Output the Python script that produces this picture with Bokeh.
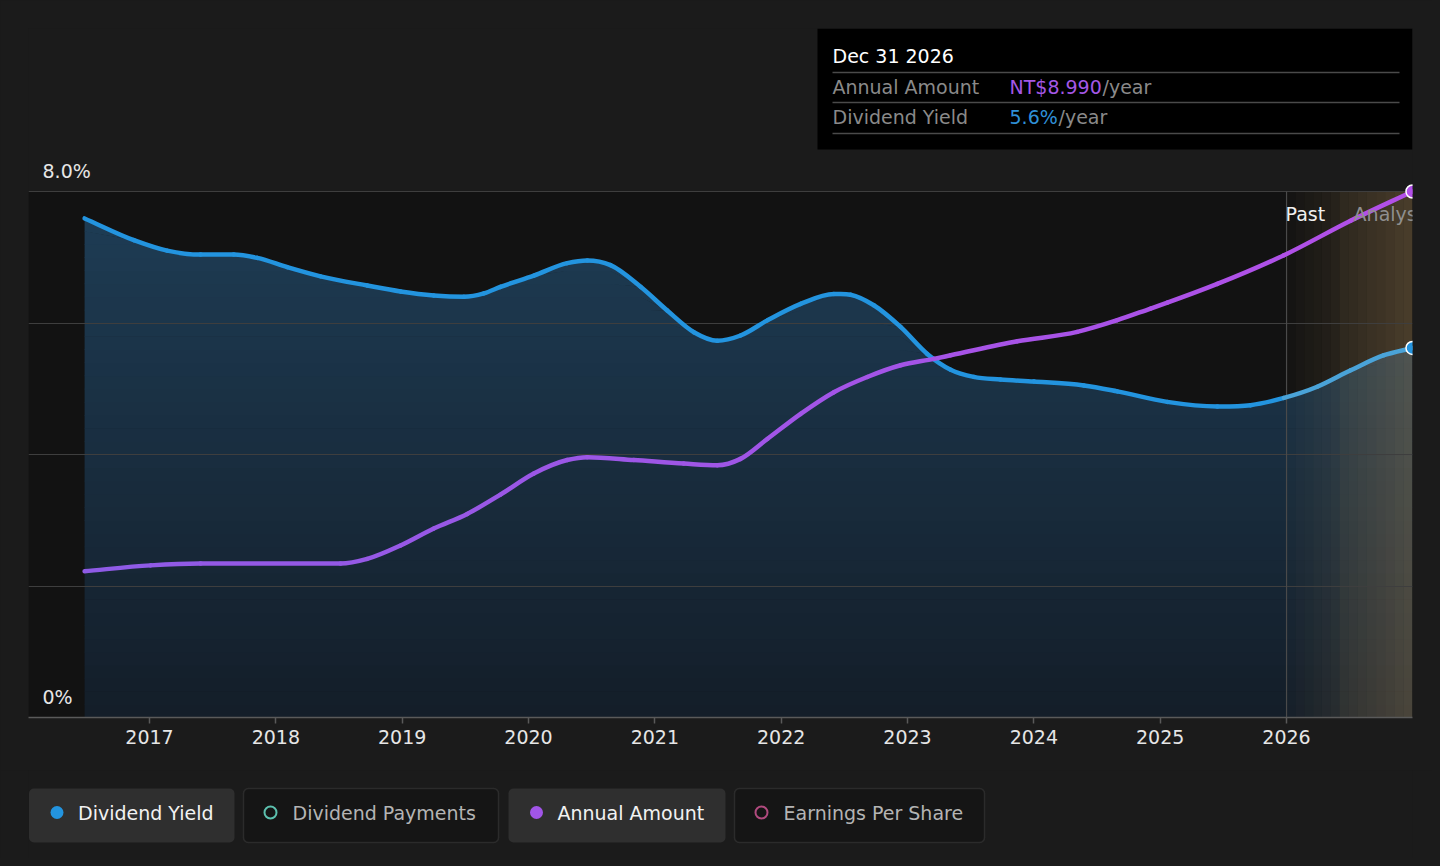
import numpy as np
from bokeh.plotting import figure
from bokeh.layouts import column
from bokeh.models import Range1d, FixedTicker, BoxAnnotation, GlobalInlineStyleSheet
from bokeh.core.properties import value
from bokeh.embed import file_html
from bokeh.resources import INLINE

# ---------------- data ----------------
yield_years = [2016.486, 2016.876, 2017.140, 2017.404, 2017.667, 2017.853, 2018.090, 2018.354,
               2018.723, 2018.987, 2019.250, 2019.488, 2019.646, 2019.778, 2020.042, 2020.306,
               2020.465, 2020.649, 2020.887, 2021.098, 2021.309, 2021.494, 2021.678, 2021.890,
               2022.154, 2022.417, 2022.549, 2022.733, 2022.945, 2023.156, 2023.341, 2023.525,
               2023.736, 2024.000, 2024.396, 2024.660, 2025.056, 2025.452, 2025.715, 2025.979,
               2026.243, 2026.507, 2026.771, 2026.997]
yield_values = [7.59, 7.26, 7.10, 7.04, 7.04, 6.99, 6.85, 6.71,
                6.57, 6.48, 6.42, 6.40, 6.45, 6.55, 6.72, 6.91,
                6.95, 6.88, 6.55, 6.19, 5.86, 5.73, 5.81, 6.04,
                6.29, 6.44, 6.43, 6.27, 5.94, 5.53, 5.29, 5.18,
                5.14, 5.11, 5.05, 4.96, 4.80, 4.73, 4.75, 4.86,
                5.03, 5.28, 5.51, 5.62]

amount_years = [2016.486, 2017.008, 2017.404, 2018.512, 2018.723, 2018.987, 2019.250, 2019.515,
                2019.778, 2020.042, 2020.306, 2020.465, 2020.834, 2021.229, 2021.494, 2021.678,
                2021.890, 2022.154, 2022.417, 2022.681, 2022.945, 2023.208, 2023.341, 2023.869,
                2024.343, 2024.660, 2024.924, 2025.056, 2025.452, 2025.979, 2026.507, 2026.997]
amount_values = [2.50, 2.60, 2.63, 2.63, 2.71, 2.94, 3.23, 3.48,
                 3.81, 4.17, 4.40, 4.45, 4.40, 4.34, 4.31, 4.42,
                 4.76, 5.19, 5.56, 5.82, 6.02, 6.13, 6.19, 6.43,
                 6.59, 6.79, 6.99, 7.09, 7.41, 7.90, 8.49, 8.99]

year_ticks = [2017, 2018, 2019, 2020, 2021, 2022, 2023, 2024, 2025, 2026]
yield_grid_ticks = [2, 4, 6, 8]
yield_labels_at = [0, 8]
yield_labels = ["0%", "8.0%"]
yield_axis_max = 8.0
amount_axis_max = 8.99
past_start = 2026.0
forecast_start = 2026.42
tooltip_date = "Dec 31 2026"
legend_labels = ["Dividend Yield", "Dividend Payments", "Annual Amount", "Earnings Per Share"]
legend_active = [True, False, True, False]
legend_colors = ["#2394df", "#5cc0ae", "#a155e8", "#b04a7e"]

# ---------------- styling / layout ----------------
FONT = value("DejaVu Sans")
BG = "#1b1b1b"
PLOT_BG = "#121212"
BLUE = "#2394df"
BLUE_FC = "#4aa3d8"

X_START, X_END = 2016.042, 2026.997
FL, FT = 28, 28          # frame left / top in page pixels
FW, FH = 1384, 689
Y_END = yield_axis_max * FH / 526.0
AMT_END = amount_axis_max * FH / 526.0


def dx(sx):
    return X_START + (sx - FL) / FW * (X_END - X_START)


def dy(sy):
    return (FT + FH - sy) / FH * Y_END


def bezier_parts(xs, ys):
    """Monotone cubic (Fritsch-Carlson style) segments expressed as Bezier controls."""
    x = np.asarray(xs, float)
    y = np.asarray(ys, float)
    h = np.diff(x)
    d = np.diff(y) / h
    m = np.zeros(len(x))
    m[0], m[-1] = d[0], d[-1]
    for i in range(1, len(x) - 1):
        if d[i - 1] * d[i] <= 0:
            m[i] = 0.0
        else:
            m[i] = (d[i - 1] * h[i] + d[i] * h[i - 1]) / (h[i - 1] + h[i])
    return dict(x0=x[:-1], y0=y[:-1], x1=x[1:], y1=y[1:],
                cx0=x[:-1] + h / 3, cy0=y[:-1] + m[:-1] * h / 3,
                cx1=x[1:] - h / 3, cy1=y[1:] - m[1:] * h / 3)


p = figure(frame_width=FW, frame_height=FH,
           x_range=Range1d(X_START, X_END), y_range=Range1d(0, Y_END),
           output_backend="svg", toolbar_location=None, y_axis_location=None,
           min_border_left=FL, min_border_right=20, min_border_top=FT, min_border_bottom=53,
           background_fill_color=BG, border_fill_color=BG, outline_line_color=None)
p.extra_y_ranges = {"amount": Range1d(0, AMT_END)}
p.xgrid.visible = False
p.ygrid.visible = False

ax = p.xaxis[0]
ax.ticker = FixedTicker(ticks=year_ticks)
ax.major_label_overrides = {t: str(t) for t in year_ticks}
ax.major_label_text_font = "DejaVu Sans"
ax.major_label_text_font_size = "19px"
ax.major_label_text_color = "#e6e6e6"
ax.axis_line_color = "#5a5a5a"
ax.axis_line_width = 1.5
ax.major_tick_line_color = "#5a5a5a"
ax.major_tick_line_width = 1.5
ax.major_tick_in = 0
ax.major_tick_out = 6
ax.minor_tick_line_color = None
ax.major_label_standoff = 6

# darker plot area
p.quad(left=[X_START], right=[X_END], bottom=[0], top=[yield_axis_max],
       fill_color=PLOT_BG, line_color=None)

# gradient fill under dividend yield
yx = np.array(yield_years)
yv = np.array(yield_values)
N = 40
top_c = np.array([30, 60, 84])
bot_c = np.array([20, 30, 41])
for k in range(N):
    lo = k * yield_axis_max / N
    hi = (k + 1) * yield_axis_max / N
    if lo > yv.max():
        break
    t = (lo + hi) / 2 / yv.max()
    c = bot_c + (top_c - bot_c) * min(t, 1)
    col = "#%02x%02x%02x" % tuple(int(v) for v in c)
    p.varea(x=yx, y1=np.minimum(yv, max(lo - 0.01, 0)), y2=np.minimum(yv, hi),
            fill_color=col, fill_alpha=1)

# past / forecast shading strips
ps = np.linspace(past_start, forecast_start, 7)
for i in range(6):
    p.quad(left=[ps[i]], right=[ps[i + 1]], bottom=[0], top=[yield_axis_max],
           fill_color="#c8a064", fill_alpha=0.02 + 0.018 * i, line_color=None)
fs = np.linspace(forecast_start, X_END, 9)
for i in range(8):
    p.quad(left=[fs[i]], right=[fs[i + 1]], bottom=[0], top=[yield_axis_max],
           fill_color="#c8a064", fill_alpha=0.16 + 0.02 * i, line_color=None)

# grid lines
p.hspan(y=yield_grid_ticks, line_color="#3e3e3e", line_width=1.2)
p.segment(x0=[past_start], y0=[0], x1=[past_start], y1=[yield_axis_max],
          line_color="#4a4a4a", line_width=1.2)

# dividend yield line (smooth curve through the points)
bz = bezier_parts(yield_years, yield_values)
bz["color"] = [BLUE if x1 <= past_start + 0.01 else BLUE_FC for x1 in yield_years[1:]]
p.bezier(x0="x0", y0="y0", x1="x1", y1="y1", cx0="cx0", cy0="cy0", cx1="cx1", cy1="cy1",
         source=bz, line_color="color", line_width=4.5, line_cap="round")

# annual amount line (colour shifts along the line)
ax_arr = np.array(amount_years)
t = (ax_arr[1:] - ax_arr[0]) / (ax_arr[-1] - ax_arr[0])
c0 = np.array([142, 92, 230])
c1 = np.array([178, 80, 232])
acols = ["#%02x%02x%02x" % tuple(int(v) for v in (c0 + (c1 - c0) * tt)) for tt in t]
ba = bezier_parts(amount_years, amount_values)
ba["color"] = acols
p.bezier(x0="x0", y0="y0", x1="x1", y1="y1", cx0="cx0", cy0="cy0", cx1="cx1", cy1="cy1",
         source=ba, line_color="color", line_width=4.5, line_cap="round", y_range_name="amount")

# end markers
p.scatter([yield_years[-1]], [yield_values[-1]], size=13, marker="circle",
          fill_color=BLUE, line_color="white", line_width=1.5)
p.scatter([amount_years[-1]], [amount_values[-1]], size=13, marker="circle",
          fill_color=acols[-1], line_color="white", line_width=1.5, y_range_name="amount")

# y labels
p.text(x=[X_START] * 2, y=yield_labels_at, text=yield_labels, x_offset=14, y_offset=-21,
       text_font=FONT, text_font_size="19px", text_color="#e6e6e6", text_baseline="middle")

# Past / Analysts labels
p.text(x=[past_start], y=[yield_axis_max], text=["Past"], x_offset=-1, y_offset=22,
       text_font=FONT, text_font_size="19px", text_color="#f0f0f0", text_baseline="middle")
p.text(x=[forecast_start], y=[yield_axis_max], text=["Analysts Forecasts"], x_offset=14, y_offset=22,
       text_font=FONT, text_font_size="19px", text_color="#8f8f8f", text_baseline="middle")

# tooltip box
p.quad(left=[dx(817)], right=[X_END], top=[dy(28)], bottom=[dy(149)],
       fill_color="#000000", line_color=None)
p.segment(x0=[dx(832)] * 3, x1=[dx(1399)] * 3, y0=[dy(72), dy(102), dy(133)],
          y1=[dy(72), dy(102), dy(133)], line_color="#4a4a4a", line_width=1.5)
p.text(x=[dx(832)], y=[dy(55)], text=[tooltip_date], text_font=FONT, text_font_size="19px",
       text_color="#ffffff", text_baseline="middle")
p.text(x=[dx(832), dx(832)], y=[dy(86), dy(116)], text=["Annual Amount", "Dividend Yield"],
       text_font=FONT, text_font_size="19px", text_color="#8a8a8a", text_baseline="middle")
p.text(x=[dx(1009)], y=[dy(86)], text=["NT$%.3f" % amount_values[-1]], text_font=FONT,
       text_font_size="19px", text_color="#a457e6", text_baseline="middle")
p.text(x=[dx(1102)], y=[dy(86)], text=["/year"], text_font=FONT,
       text_font_size="19px", text_color="#8a8a8a", text_baseline="middle")
p.text(x=[dx(1009)], y=[dy(116)], text=["%.1f%%" % yield_values[-1]], text_font=FONT,
       text_font_size="19px", text_color="#2f90d8", text_baseline="middle")
p.text(x=[dx(1058)], y=[dy(116)], text=["/year"], text_font=FONT,
       text_font_size="19px", text_color="#8a8a8a", text_baseline="middle")

# ---------------- legend ----------------
LG_TOP = 770
LG_H = 88
lg = figure(frame_width=FW, frame_height=LG_H,
            x_range=Range1d(FL, FL + FW), y_range=Range1d(LG_TOP + LG_H, LG_TOP),
            output_backend="svg", toolbar_location=None, x_axis_location=None, y_axis_location=None,
            min_border_left=FL, min_border_right=20, min_border_top=0, min_border_bottom=0,
            background_fill_color=BG, border_fill_color=BG, outline_line_color=None)
lg.xgrid.visible = False
lg.ygrid.visible = False
chip_left = [28.5, 243, 508, 734]
chip_right = [234, 498, 725, 984]
chip_top, chip_bottom, chip_mid = 788, 842, 812
for i, lab in enumerate(legend_labels):
    if legend_active[i]:
        box = BoxAnnotation(left=chip_left[i], right=chip_right[i], top=chip_top, bottom=chip_bottom,
                            fill_color="#2f2f2f", fill_alpha=1, line_color=None,
                            border_radius=5, level="underlay")
    else:
        box = BoxAnnotation(left=chip_left[i], right=chip_right[i], top=chip_top, bottom=chip_bottom,
                            fill_color="#151515", fill_alpha=1, line_color="#5a5a5a",
                            line_width=1.5, border_radius=5, level="underlay")
    lg.add_layout(box)
    if legend_active[i]:
        lg.scatter([chip_left[i] + 28], [chip_mid], size=13, marker="circle",
                   fill_color=legend_colors[i], line_color=None)
        tc = "#f2f2f2"
    else:
        lg.scatter([chip_left[i] + 27], [chip_mid], size=12, marker="circle",
                   fill_color=None, line_color=legend_colors[i], line_width=2)
        tc = "#b4b4b4"
    lg.text(x=[chip_left[i] + 49], y=[chip_mid], text=[lab], text_font=FONT, text_font_size="19px",
            text_color=tc, text_baseline="middle")

layout = column(p, lg, stylesheets=[GlobalInlineStyleSheet(css="body{background:#1b1b1b;}")])
open("out.html", "w").write(file_html(layout, INLINE))
